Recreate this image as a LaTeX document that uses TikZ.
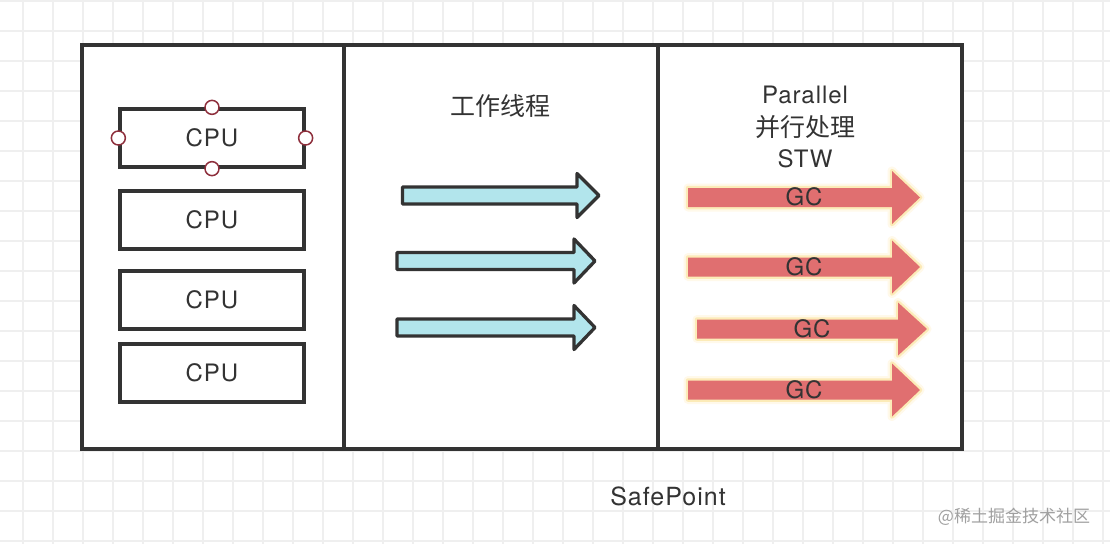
\documentclass[tikz,border=0pt]{standalone}
\usepackage{fontspec}
\setmainfont{TeX Gyre Heros}[LetterSpace=4]
\newfontfamily\cjk{Noto Sans CJK SC}
\definecolor{ink}{HTML}{333333}
\definecolor{gridc}{HTML}{EFEFEF}
\definecolor{handlered}{HTML}{8E2F3C}
\definecolor{bluefill}{HTML}{B2E5EC}
\definecolor{redfill}{HTML}{E06F70}
\definecolor{glowA}{HTML}{FFF9EA}
\definecolor{glowB}{HTML}{FCEBB8}
\definecolor{wmark}{HTML}{A0A0A0}
\newcommand{\fatarrow}[7]{%
  \path[#1] (#2,#5-#6) -- (#3,#5-#6) -- (#3,#5-#7) -- (#4,#5) -- (#3,#5+#7) -- (#3,#5+#6) -- (#2,#5+#6) -- cycle;}
\begin{document}
\begin{tikzpicture}[x=1pt,y=-1pt,
  gridline/.style={draw=gridc, line width=1.3pt},
  frame/.style={draw=ink, line width=4pt},
  cpubox/.style={draw=ink, line width=3.3pt, minimum width=184pt, minimum height=58pt, inner sep=0pt, text=ink, font=\fontsize{24}{28}\selectfont},
  handle/.style={circle, draw=handlered, fill=white, line width=1.5pt, minimum size=14pt, inner sep=0pt},
  lbl/.style={text=ink, inner sep=0pt, font=\fontsize{24}{28}\selectfont},
  cjklbl/.style={text=ink, inner sep=0pt, font=\cjk\fontsize{25}{30}\selectfont},
  bluearrow/.style={draw=ink, fill=bluefill, line width=3.3pt, line join=round},
  glowouter/.style={draw=glowA, line width=9pt, line join=round},
  glowinner/.style={draw=glowB, line width=4.5pt, line join=round},
  redarrow/.style={fill=redfill},
  gclbl/.style={lbl},
  wm/.style={text=wmark, inner sep=0pt, font=\cjk\fontsize{17}{20}\selectfont}]
\useasboundingbox (0,0) rectangle (1110,544);
\fill[white] (0,0) rectangle (1110,544);
% background grid
\foreach \gx in {23,53,...,1110} \draw[gridline] (\gx,0) -- (\gx,544);
\foreach \gy in {1,31,...,544} \draw[gridline] (0,\gy) -- (1110,\gy);
% outer frame and dividers
\draw[frame, fill=white] (82,45) rectangle (962,449);
\coordinate (d1t) at (344,45); \coordinate (d1b) at (344,449);
\coordinate (d2t) at (658,45); \coordinate (d2b) at (658,449);
\draw[frame] (d1t) -- (d1b);
\draw[frame] (d2t) -- (d2b);
% CPU boxes
\node[cpubox] (cpu1) at (212,138) {CPU};
\node[cpubox] (cpu2) at (212,220) {CPU};
\node[cpubox] (cpu3) at (212,300) {CPU};
\node[cpubox] (cpu4) at (212,373) {CPU};
\node[handle] (hn) at (cpu1.north) {};
\node[handle] (hs) at (cpu1.south) {};
\node[handle] (hw) at (cpu1.west) {};
\node[handle] (he) at (cpu1.east) {};
% worker threads
\node[cjklbl] (work) at (500,106) {工作线程};
\fatarrow{bluearrow}{402.5}{577}{599}{195.5}{8.5}{22}
\fatarrow{bluearrow}{397}{574}{595}{261}{8.5}{22}
\fatarrow{bluearrow}{397}{574}{595}{327.5}{8.5}{22}
% parallel GC
\node[lbl] (par) at (805,95) {Parallel};
\node[cjklbl] (bx) at (805,127) {并行处理};
\node[lbl] (stw) at (805,158.5) {STW};
\foreach \x/\xh/\xt/\y in {688/892/920/197.5, 688/892/920/267, 697/898/927/329, 688/892/920/390}{
  \fatarrow{glowouter}{\x}{\xh}{\xt}{\y}{9.5}{26.5}
  \fatarrow{glowinner}{\x}{\xh}{\xt}{\y}{9.5}{26.5}
  \fatarrow{redarrow}{\x}{\xh}{\xt}{\y}{9.5}{26.5}
}
\node[gclbl] (gc1) at (804,197) {GC};
\node[gclbl] (gc2) at (804,267) {GC};
\node[gclbl] (gc3) at (812,329) {GC};
\node[gclbl] (gc4) at (804,390) {GC};
% safepoint
\node[lbl, font=\fontsize{25}{30}\selectfont] (sp) at (668,496) {SafePoint};
\node[wm] (wmk) at (1014,517) {@稀土掘金技术社区};
\end{tikzpicture}
\end{document}
